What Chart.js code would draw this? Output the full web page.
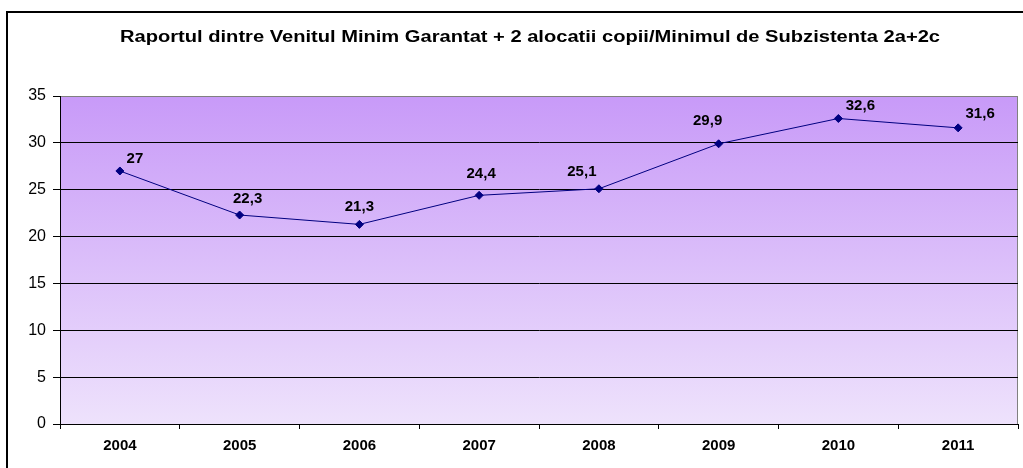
<!DOCTYPE html>
<html>
<head>
<meta charset="utf-8">
<script src="https://cdn.jsdelivr.net/npm/chart.js@4/dist/chart.umd.min.js"></script>
<style>
  html, body { margin: 0; padding: 0; background: #fff; }
  #wrap { width: 1023px; height: 468px; }
</style>
</head>
<body>
<div id="wrap"><canvas id="raport"></canvas></div>
<script>
const chartTitle = 'Raportul dintre Venitul Minim Garantat + 2 alocatii copii/Minimul de Subzistenta 2a+2c';
const years = ['2004', '2005', '2006', '2007', '2008', '2009', '2010', '2011'];
const ratio = [27, 22.3, 21.3, 24.4, 25.1, 29.9, 32.6, 31.6];
const yMax = 35;
const yStep = 5;

// labels were nudged by hand in the original: [dx of centre, dy of baseline] from the point
const labelNudge = [[15, -8], [8, -12], [0, -13], [2, -17], [-17, -13], [-11, -19], [22, -8], [22, -10]];

const FONT = '"Liberation Sans", Arial, sans-serif';

// frame, gradient plot background, title
const decor = {
    id: 'decor',
    beforeDraw(chart) {
        const c = chart.ctx, a = chart.chartArea;
        c.save();
        const g = c.createLinearGradient(0, a.top, 0, a.bottom);
        g.addColorStop(0, '#c89af8');
        g.addColorStop(1, '#eee2fc');
        c.fillStyle = g;
        c.fillRect(a.left, a.top, a.right - a.left, a.bottom - a.top);
        c.strokeStyle = '#808080';
        c.lineWidth = 1;
        c.strokeRect(a.left + 0.5, a.top + 0.5, a.right - a.left - 1, a.bottom - a.top);
        c.restore();
    },
    afterDraw(chart) {
        const c = chart.ctx;
        c.save();
        c.strokeStyle = '#000';
        c.lineWidth = 2;
        c.strokeRect(7, 12, 1040, 480);
        c.fillStyle = '#000';
        c.font = 'bold 16px ' + FONT;
        c.textAlign = 'center';
        c.textBaseline = 'middle';
        // the original title is wider (~820px), stretch it a bit
        const w = c.measureText(chartTitle).width;
        c.translate(530, 38);
        c.scale(820 / w, 1);
        c.fillText(chartTitle, 0, 0);
        c.restore();
    }
};

// value labels, comma decimals
const valueLabels = {
    id: 'valueLabels',
    afterDatasetsDraw(chart) {
        const c = chart.ctx;
        const meta = chart.getDatasetMeta(0);
        c.save();
        c.fillStyle = '#000';
        c.font = 'bold 15px ' + FONT;
        c.textAlign = 'center';
        c.textBaseline = 'alphabetic';
        meta.data.forEach((pt, i) => {
            const [dx, dy] = labelNudge[i];
            c.fillText(String(ratio[i]).replace('.', ','), pt.x + dx, pt.y + dy);
        });
        c.restore();
    }
};

const ctx = document.getElementById('raport');
const raportChart = new Chart(ctx, {
    type: 'line',
    data: {
        labels: years,
        datasets: [{
            data: ratio,
            borderColor: '#000080',
            backgroundColor: '#000080',
            borderWidth: 1,
            pointStyle: 'rectRot',
            pointRadius: 4,
            pointHoverRadius: 4,
            tension: 0
        }]
    },
    options: {
        responsive: true,
        maintainAspectRatio: false,
        animation: false,
        layout: { padding: { top: 96, right: 3, left: 0, bottom: 0 } },
        plugins: {
            legend: { display: false },
            tooltip: { enabled: false }
        },
        scales: {
            x: {
                offset: true,
                afterFit(s) { s.height = 44; },
                grid: {
                    offset: true,
                    drawOnChartArea: false,
                    drawTicks: true,
                    tickLength: 5,
                    color: '#000'
                },
                border: { color: '#000', width: 1 },
                ticks: {
                    color: '#000',
                    padding: 8,
                    font: { family: FONT, size: 15, weight: 'bold' }
                }
            },
            y: {
                min: 0,
                max: yMax,
                afterFit(s) { s.width = 60; },
                grid: {
                    color: (c) => c.tick && c.tick.value === yMax ? '#808080' : '#000',
                    tickColor: '#000',
                    tickLength: 7,
                    lineWidth: 1
                },
                border: { color: '#000', width: 1 },
                ticks: {
                    stepSize: yStep,
                    color: '#000',
                    padding: 7,
                    font: { family: FONT, size: 16 }
                }
            }
        }
    },
    plugins: [decor, valueLabels]
});
</script>
</body>
</html>
